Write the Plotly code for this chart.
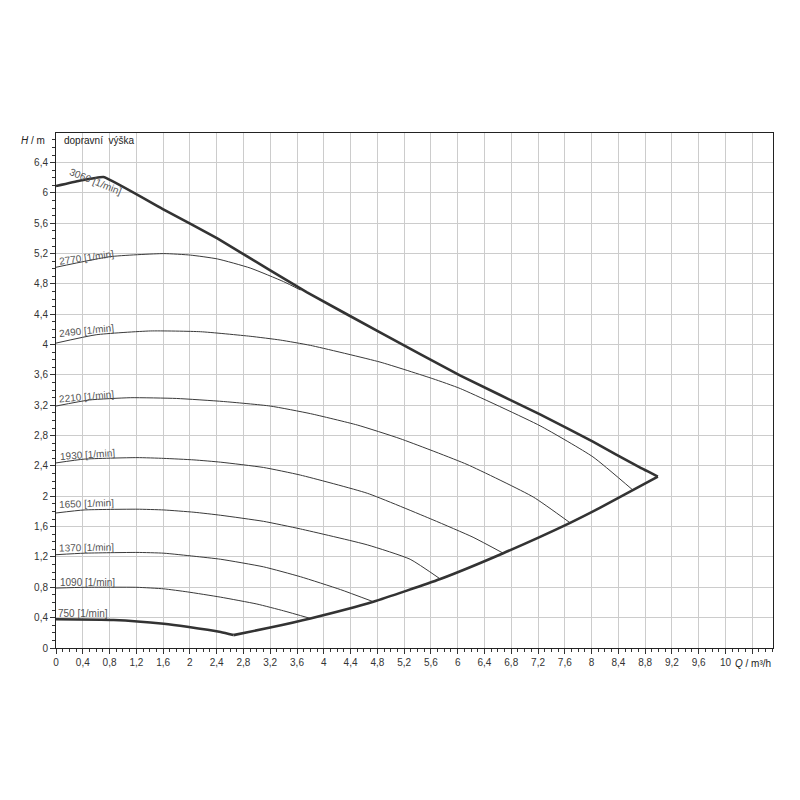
import plotly.graph_objects as go

# ---- data (Q in m3/h, H in m) ----
max_q = [0, 0.35, 0.71, 1.61, 2.41, 3.20, 3.75, 4.84, 6.04, 7.23, 8.02, 8.72, 8.99]
max_h = [6.09, 6.16, 6.21, 5.78, 5.40, 4.98, 4.69, 4.16, 3.59, 3.08, 2.72, 2.38, 2.26]

env_q = [2.65, 3.2, 3.8, 4.74, 5.74, 6.68, 7.68, 8.13, 8.99]
env_h = [0.17, 0.27, 0.39, 0.61, 0.91, 1.25, 1.65, 1.85, 2.26]

q750 = [0, 0.86, 1.61, 1.96, 2.46, 2.65]
h750 = [0.38, 0.37, 0.32, 0.28, 0.21, 0.17]

q1090 = [0, 0.42, 1.21, 1.61, 1.96, 2.46, 3.0, 3.4, 3.8]
h1090 = [0.79, 0.80, 0.80, 0.78, 0.74, 0.67, 0.58, 0.49, 0.39]

q1370 = [0, 0.42, 1.21, 1.61, 2.06, 2.46, 3.1, 3.65, 4.25, 4.74]
h1370 = [1.23, 1.25, 1.26, 1.25, 1.21, 1.17, 1.07, 0.94, 0.77, 0.61]

q1650 = [0, 0.42, 1.21, 1.61, 2.06, 2.46, 3.1, 3.65, 4.65, 5.29, 5.74]
h1650 = [1.78, 1.82, 1.83, 1.82, 1.79, 1.75, 1.67, 1.57, 1.36, 1.17, 0.91]

q1930 = [0, 0.42, 1.21, 1.61, 2.06, 2.46, 3.1, 3.65, 4.65, 5.63, 6.23, 6.68]
h1930 = [2.44, 2.49, 2.51, 2.50, 2.48, 2.45, 2.38, 2.28, 2.04, 1.69, 1.46, 1.25]

q2210 = [0, 0.5, 1.11, 1.8, 2.5, 3.2, 3.8, 4.5, 5.14, 6.14, 7.13, 7.68]
h2210 = [3.19, 3.27, 3.30, 3.29, 3.25, 3.19, 3.09, 2.94, 2.76, 2.42, 1.99, 1.65]

q2490 = [0, 0.6, 1.41, 2.16, 2.9, 3.35, 3.8, 4.84, 5.63, 6.04, 7.23, 8.02, 8.62]
h2490 = [4.02, 4.13, 4.18, 4.17, 4.11, 4.06, 3.99, 3.77, 3.55, 3.42, 2.93, 2.52, 2.08]

q2770 = [0, 0.81, 1.61, 2.01, 2.41, 2.9, 3.40, 3.65]
h2770 = [5.02, 5.16, 5.20, 5.18, 5.13, 5.01, 4.83, 4.72]

speed_labels = ["3060 [1/min]", "2770 [1/min]", "2490 [1/min]", "2210 [1/min]",
                "1930 [1/min]", "1650 [1/min]", "1370 [1/min]", "1090 [1/min]", "750 [1/min]"]
label_x = [0.59, 0.46, 0.46, 0.46, 0.47, 0.46, 0.46, 0.47, 0.41]
label_y = [6.15, 5.15, 4.18, 3.31, 2.55, 1.90, 1.33, 0.87, 0.46]
label_angle = [22, -8, -6, -5, -4, -2, -1, 0, 0]

x_ticks = [round(0.4 * i, 1) for i in range(27)]
x_ticktext = [("%g" % v).replace(".", ",") if v <= 10 else "" for v in x_ticks]
y_ticks = [round(0.4 * i, 1) for i in range(17)]
y_ticktext = [("%g" % v).replace(".", ",") for v in y_ticks]

fig = go.Figure()

thin = dict(color="#3a3a3a", width=1)
thick = dict(color="#333333", width=2.6)

for q, h in [(q2770, h2770), (q2490, h2490), (q2210, h2210), (q1930, h1930),
             (q1650, h1650), (q1370, h1370), (q1090, h1090)]:
    fig.add_trace(go.Scatter(x=q, y=h, mode="lines", line=dict(thin, shape="spline", smoothing=0.5),
                             hoverinfo="skip", showlegend=False))

fig.add_trace(go.Scatter(x=q750, y=h750, mode="lines", line=dict(thick, shape="spline", smoothing=0.5),
                         showlegend=False, hoverinfo="skip"))
fig.add_trace(go.Scatter(x=env_q, y=env_h, mode="lines", line=dict(thick, shape="spline", smoothing=0.5),
                         showlegend=False, hoverinfo="skip"))
fig.add_trace(go.Scatter(x=max_q, y=max_h, mode="lines", line=dict(thick, shape="spline", smoothing=0.3),
                         showlegend=False, hoverinfo="skip"))

for t, x, y, a in zip(speed_labels, label_x, label_y, label_angle):
    fig.add_annotation(x=x, y=y, text=t, showarrow=False, textangle=a,
                       font=dict(family="Arial, Liberation Sans", size=10, color="#555555"))

fig.add_annotation(xref="paper", yref="paper", x=0.008, y=0.985, xanchor="left", yanchor="middle",
                   text="dopravní  výška", showarrow=False,
                   font=dict(family="Arial, Liberation Sans", size=10, color="#222222"))
fig.add_annotation(xref="paper", yref="paper", x=-0.012, y=0.985, xanchor="right", yanchor="middle",
                   text="<i>H</i> / m", showarrow=False,
                   font=dict(family="Arial, Liberation Sans", size=10, color="#222222"))
fig.add_annotation(xref="paper", yref="paper", x=1.0, y=-0.03, xanchor="right", yanchor="middle",
                   text="<i>Q</i> / m³/h", showarrow=False,
                   font=dict(family="Arial, Liberation Sans", size=10, color="#222222"))

axis_common = dict(showgrid=True, gridcolor="#cccccc", gridwidth=1, zeroline=False,
                   showline=True, linecolor="#222222", linewidth=1, mirror=True,
                   ticks="outside", ticklen=5, tickcolor="#333333",
                   tickfont=dict(family="Arial, Liberation Sans", size=10, color="#333333"),
                   minor=dict(dtick=0.1, ticks="outside", ticklen=3, tickcolor="#333333", showgrid=False))

fig.update_xaxes(range=[0, 10.71], tickmode="array", tickvals=x_ticks, ticktext=x_ticktext, **axis_common)
fig.update_yaxes(range=[0, 6.79], tickmode="array", tickvals=y_ticks, ticktext=y_ticktext, **axis_common)

fig.update_layout(width=800, height=800, plot_bgcolor="white", paper_bgcolor="white",
                  margin=dict(l=48, r=35, t=125, b=160), showlegend=False)

fig.write_html("out.html")
